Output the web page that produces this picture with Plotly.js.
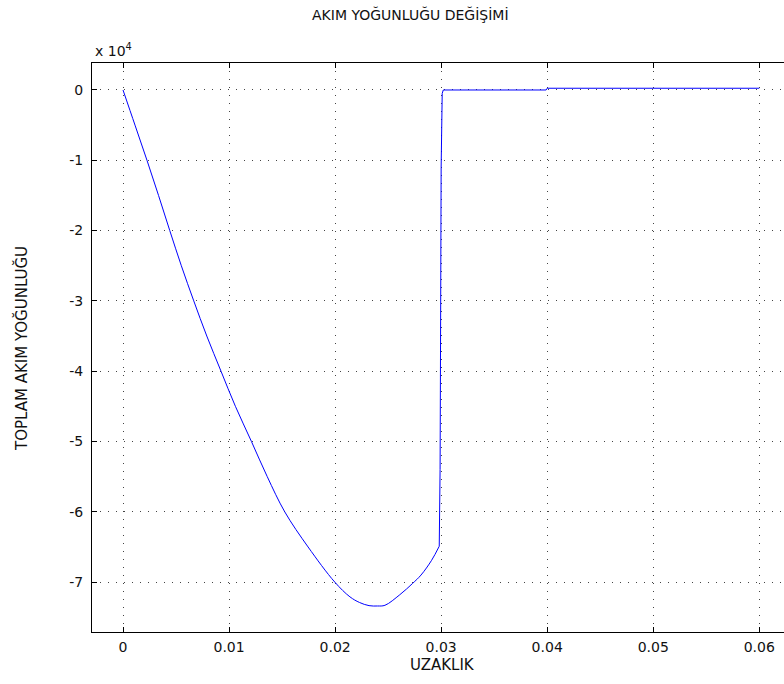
<!DOCTYPE html>
<html>
<head>
<meta charset="utf-8">
<script src="https://cdn.plot.ly/plotly-3.0.1.min.js"></script>
<style>
html,body{margin:0;padding:0;overflow:hidden;background:#fff;}
#chart{width:800px;height:684px;}
</style>
</head>
<body>
<div id="chart"></div>
<script>
// Distance values (UZAKLIK)
const xData = [0, 0.00113, 0.00226, 0.00335, 0.00441, 0.0055, 0.00667, 0.0079, 0.00924, 0.0106, 0.01211,
  0.0136, 0.01525, 0.01745, 0.01997, 0.0214, 0.0223, 0.0232, 0.0240, 0.0247, 0.0261, 0.0273, 0.0281,
  0.0291, 0.02982, 0.0299, 0.02995, 0.0300, 0.0301, 0.0302, 0.0399, 0.0400, 0.0600];
// Total current density (TOPLAM AKIM YOĞUNLUĞU)
const yData = [0, -5000, -10000, -15000, -20000, -25000, -30000, -35000, -40000, -45000, -50000,
  -55000, -60000, -65000, -70000, -72100, -72900, -73350, -73400, -73300, -71800, -70200, -69000,
  -66900, -64900, -54000, -33000, -11000, -500, 0, 0, 250, 250];
// index where the smooth curve ends and the jump begins
const curveEnd = 24;

const xTicks = [0, 0.01, 0.02, 0.03, 0.04, 0.05, 0.06];
const xTickLabels = ['0', '0.01', '0.02', '0.03', '0.04', '0.05', '0.06'];
const yTicks = [0, -10000, -20000, -30000, -40000, -50000, -60000, -70000];
const yTickLabels = ['0', '-1', '-2', '-3', '-4', '-5', '-6', '-7'];

const chartTitle = 'AKIM YOĞUNLUĞU DEĞİŞİMİ';
const xTitle = 'UZAKLIK';
const yTitle = 'TOPLAM AKIM YOĞUNLUĞU';
const exponentLabel = 'x 10<sup>4</sup>';

const FAM = 'DejaVu Sans, sans-serif';
const tickFont = {family: FAM, size: 14, color: '#111'};
const titleFont = {family: FAM, size: 14, color: '#111'};
const labelFont = {family: FAM, size: 15, color: '#111'};

const axisCommon = {
  showline: true, linecolor: '#000', linewidth: 1, mirror: 'ticks',
  ticks: 'inside', ticklen: 5, tickcolor: '#000', tickwidth: 1,
  showgrid: true, gridcolor: '#444', gridwidth: 1, griddash: '1px,7px',
  zeroline: false, tickfont: tickFont, fixedrange: true
};

const W = 800, ML = 92, MR = 0;
const plotW = W - ML - MR;

Plotly.newPlot('chart', [
  {
    x: xData.slice(0, curveEnd + 1), y: yData.slice(0, curveEnd + 1), type: 'scatter', mode: 'lines',
    line: {color: '#0000ff', width: 1, shape: 'spline', smoothing: 1}, hoverinfo: 'skip'
  },
  {
    x: xData.slice(curveEnd), y: yData.slice(curveEnd), type: 'scatter', mode: 'lines',
    line: {color: '#0000ff', width: 1}, hoverinfo: 'skip'
  }
], {
  width: W, height: 684,
  margin: {l: ML, r: MR, t: 63, b: 52},
  paper_bgcolor: '#fff', plot_bgcolor: '#fff',
  showlegend: false,
  font: tickFont,
  xaxis: Object.assign({}, axisCommon, {
    range: [-0.002925, 0.06384], tickmode: 'array', tickvals: xTicks, ticktext: xTickLabels,
    ticklabelstandoff: 2
  }),
  yaxis: Object.assign({}, axisCommon, {
    range: [-77100, 3840], tickmode: 'array', tickvals: yTicks, ticktext: yTickLabels,
    ticklabelstandoff: 5
  }),
  annotations: [
    {text: chartTitle, xref: 'paper', yref: 'paper', x: (410 - ML) / plotW, y: 1 + (63 - 14) / 569,
     xanchor: 'center', yanchor: 'middle', showarrow: false, font: titleFont},
    {text: xTitle, xref: 'paper', yref: 'paper', x: (442 - ML) / plotW, y: -(665 - 632) / 569,
     xanchor: 'center', yanchor: 'middle', showarrow: false, font: labelFont},
    {text: yTitle, xref: 'paper', yref: 'paper', x: (22 - ML) / plotW, y: (632 - 349) / 569, textangle: -90,
     xanchor: 'center', yanchor: 'middle', showarrow: false, font: labelFont},
    {text: exponentLabel, xref: 'paper', yref: 'paper', x: (93 - ML) / plotW, y: 1 + (63 - 50) / 569,
     xanchor: 'left', yanchor: 'middle', showarrow: false, font: titleFont}
  ]
}, {staticPlot: true});
</script>
</body>
</html>
